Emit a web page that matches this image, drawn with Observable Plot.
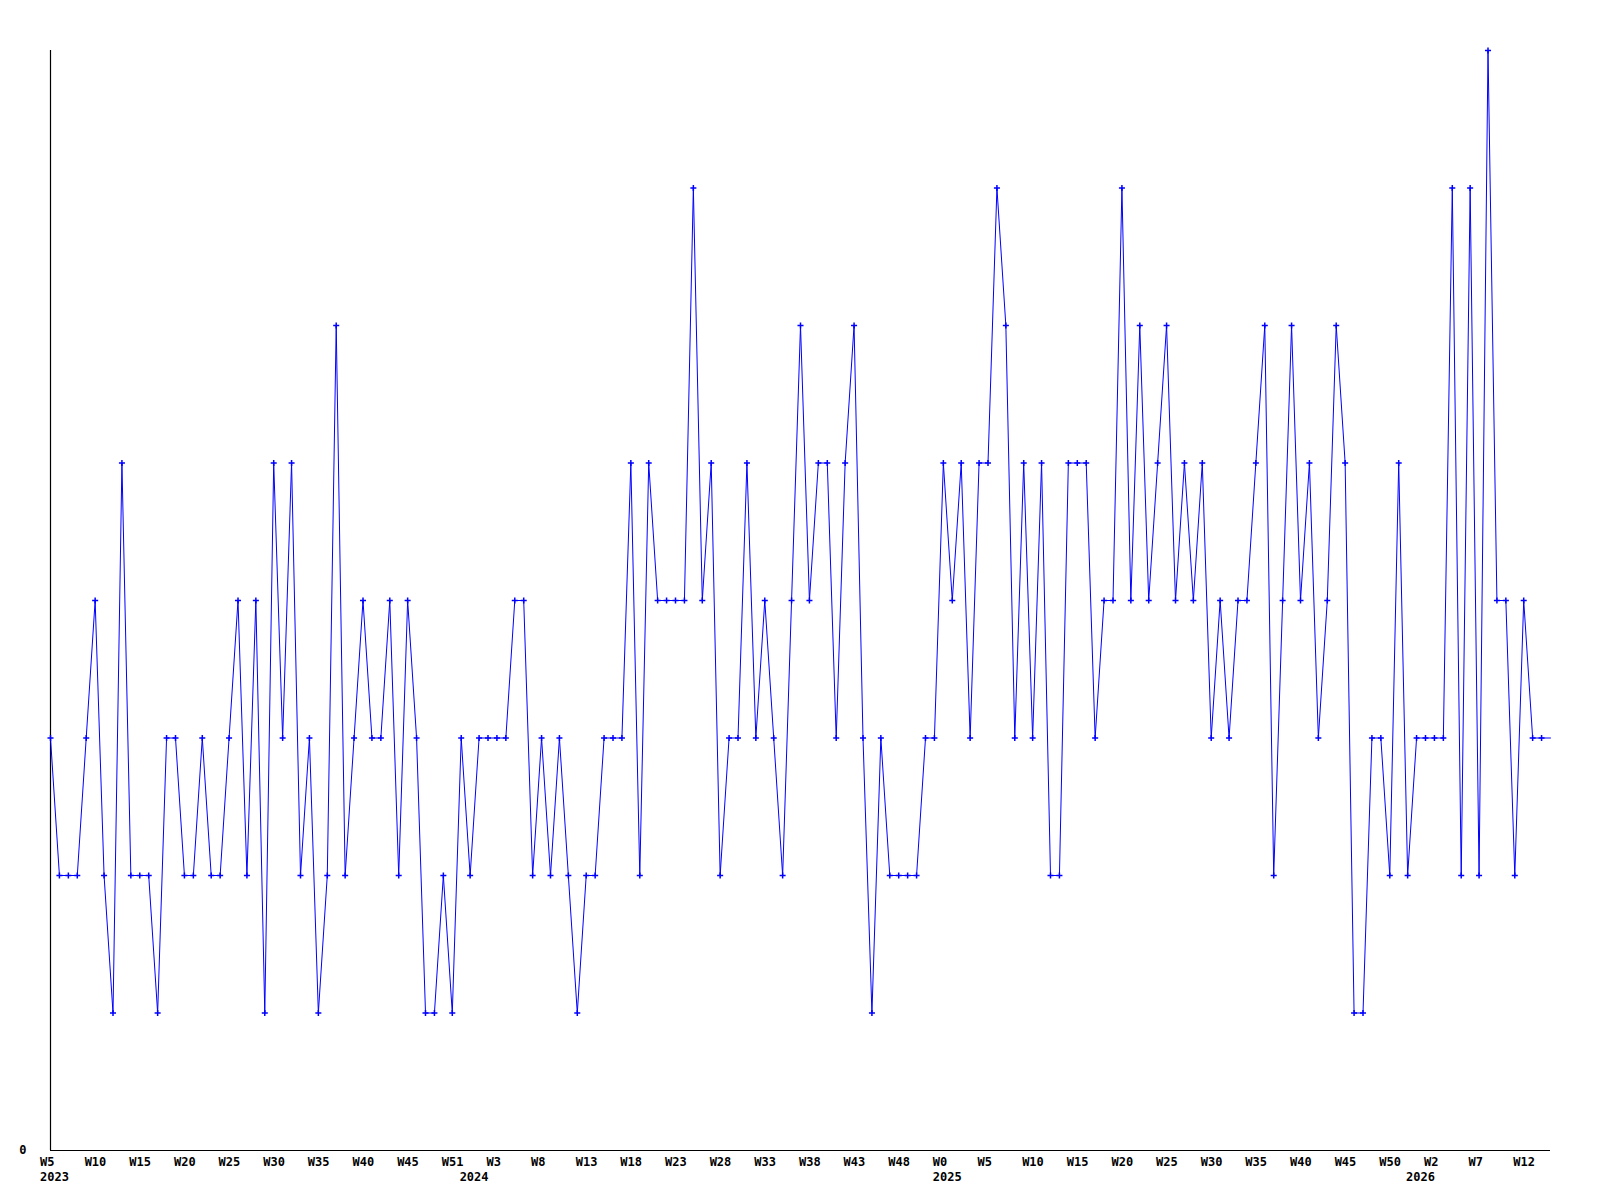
<!DOCTYPE html>
<html>
<head>
<meta charset="utf-8">
<script src="https://cdn.jsdelivr.net/npm/d3@7"></script>
<script src="https://cdn.jsdelivr.net/npm/@observablehq/plot@0.6"></script>
<style>
  html, body { margin: 0; padding: 0; background: #ffffff; }
  #chart svg { display: block; }
</style>
</head>
<body>
<div id="chart"></div>
<script>
// Weekly values, one per week, from 2023 W5 onward
const values = [
  3,2,2,2,3,4,2,1,5,2,2,2,1,3,3,2,2,3,2,2,3,4,2,4,1,5,3,5,2,
  3,1,2,6,2,3,4,3,3,4,2,4,3,1,1,2,1,3,2,3,3,3,3,4,4,2,3,2,
  3,2,1,2,2,3,3,3,5,2,5,4,4,4,4,7,4,5,2,3,3,5,3,4,3,2,4,6,4,
  5,5,3,5,6,3,1,3,2,2,2,2,3,3,5,4,5,3,5,5,7,6,3,5,3,5,2,2,5,
  5,5,3,4,4,7,4,6,4,5,6,4,5,4,5,3,4,3,4,4,5,6,2,4,6,4,5,3,
  4,6,5,1,1,3,3,2,5,2,3,3,3,3,7,2,7,2,8,4,4,2,4,3,3,3
];

// Week tick labels, one every 5 points
const weekLabels = [
  "W5","W10","W15","W20","W25","W30","W35","W40","W45","W51",
  "W3","W8","W13","W18","W23","W28","W33","W38","W43","W48",
  "W0","W5","W10","W15","W20","W25","W30","W35","W40","W45",
  "W50","W2","W7","W12"
];
const weekTickStep = 5;

// Year labels and the index of the point where each year starts
const yearLabels = ["2023", "2024", "2025", "2026"];
const yearStartIndex = [0, 47, 100, 153];

const yMax = 8;

const data = values.map((v, i) => ({i, v}));
const ticks = weekLabels.map((label, k) => ({i: k * weekTickStep, label}));
const years = yearLabels.map((label, k) => ({i: yearStartIndex[k], label}));

const font = "'DejaVu Sans Mono', 'Liberation Mono', monospace";

const chart = Plot.plot({
  width: 1600,
  height: 1200,
  marginLeft: 50,
  marginRight: 50,
  marginTop: 50,
  marginBottom: 50,
  style: {fontFamily: font, fontWeight: "bold", fontSize: "12px", color: "#000", background: "#fff"},
  x: {domain: [0, values.length - 1], axis: null},
  y: {domain: [0, yMax], axis: null},
  marks: [
    Plot.ruleX([0], {stroke: "#000", strokeWidth: 1.2}),
    Plot.ruleY([0], {stroke: "#000", strokeWidth: 1.2}),
    Plot.line(data, {x: "i", y: "v", stroke: "#0000ff", strokeWidth: 1}),
    // the last point sits on the frame edge and shows no marker in the reference
    Plot.dot(data.slice(0, -1), {x: "i", y: "v", symbol: "plus", r: 2.1, stroke: "#0000ff", strokeWidth: 1.5}),
    Plot.text(ticks, {x: "i", y: 0, text: "label", textAnchor: "start", dx: -10.5, dy: 12, lineAnchor: "middle", fill: "#000"}),
    Plot.text(years, {x: "i", y: 0, text: "label", textAnchor: "start", dx: -10.5, dy: 27, lineAnchor: "middle", fill: "#000"}),
    Plot.text([0], {x: 0, y: 0, text: d => String(d), textAnchor: "end", dx: -24, dy: 0, lineAnchor: "middle", fill: "#000"})
  ]
});

document.getElementById("chart").appendChild(chart);
</script>
</body>
</html>
